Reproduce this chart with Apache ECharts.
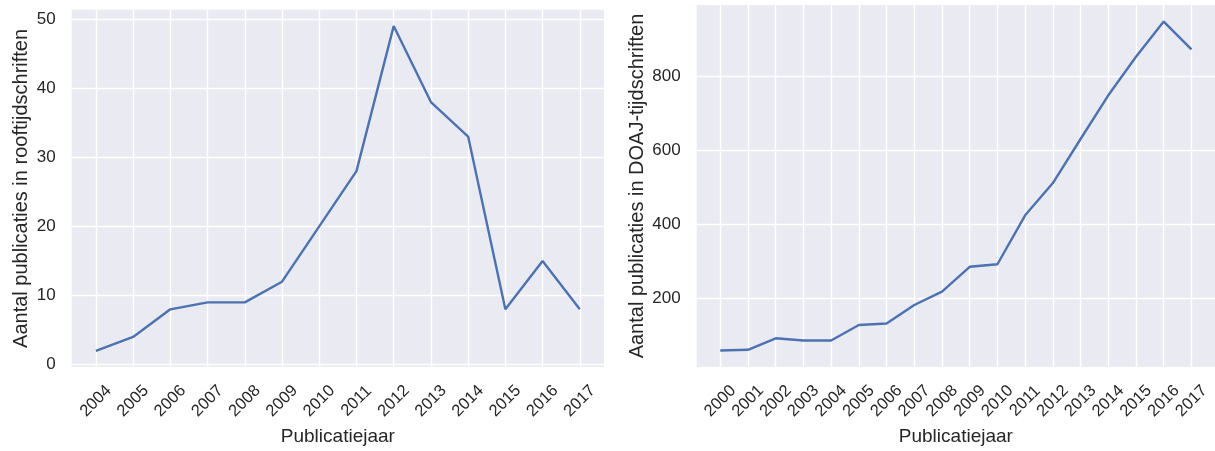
<!DOCTYPE html>
<html>
<head>
<meta charset="utf-8">
<script src="https://cdn.jsdelivr.net/npm/echarts@6/dist/echarts.min.js"></script>
<style>
  html, body { margin: 0; padding: 0; background: #ffffff; }
  #chart { width: 1215px; height: 451px; }
</style>
</head>
<body>
<div id="chart"></div>
<script>
// ---- data ----
const leftYears = [2004, 2005, 2006, 2007, 2008, 2009, 2010, 2011, 2012, 2013, 2014, 2015, 2016, 2017];
const leftValues = [2, 4, 8, 9, 9, 12, 20, 28, 49, 38, 33, 8, 15, 8];
const rightYears = [2000, 2001, 2002, 2003, 2004, 2005, 2006, 2007, 2008, 2009, 2010, 2011, 2012, 2013, 2014, 2015, 2016, 2017];
const rightValues = [59, 61, 92, 86, 86, 128, 132, 182, 218, 285, 292, 424, 511, 630, 748, 852, 947, 872];
const leftYTicks = [0, 10, 20, 30, 40, 50];
const rightYTicks = [200, 400, 600, 800];
const xLabelName = 'Publicatiejaar';
const leftYName = 'Aantal publicaties in rooftijdschriften';
const rightYName = 'Aantal publicaties in DOAJ-tijdschriften';

// matplotlib-style 5% data margins
function padded(arr) {
  const lo = Math.min.apply(null, arr), hi = Math.max.apply(null, arr);
  const m = (hi - lo) * 0.05;
  return [lo - m, hi + m];
}

const FONT = 'Arial, "Liberation Sans", sans-serif';
const TXT = '#262626';
const LINE = '#4C72B0';
const BG = '#EAEAF2';

function xAxisFor(years, gridIndex) {
  const r = padded(years);
  return {
    type: 'value', gridIndex: gridIndex, min: r[0], max: r[1],
    name: xLabelName, nameLocation: 'middle', nameGap: 56,
    nameTextStyle: { fontSize: 19, color: TXT, fontFamily: FONT },
    axisLine: { show: false },
    axisTick: { show: false, customValues: years },
    splitLine: { show: true, lineStyle: { color: '#ffffff', width: 1.4 } },
    axisLabel: {
      customValues: years, formatter: function (v) { return String(v); },
      rotate: 45, align: 'center', verticalAlign: 'middle', margin: 34,
      fontSize: 16.5, color: TXT, fontFamily: FONT
    }
  };
}
function yAxisFor(values, ticks, name, gap, gridIndex) {
  const r = padded(values);
  return {
    type: 'value', gridIndex: gridIndex, min: r[0], max: r[1],
    name: name, nameLocation: 'middle', nameGap: gap,
    nameTextStyle: { fontSize: 20, color: TXT, fontFamily: FONT },
    axisLine: { show: false },
    axisTick: { show: false, customValues: ticks },
    splitLine: { show: true, lineStyle: { color: '#ffffff', width: 1.4 } },
    axisLabel: {
      customValues: ticks, formatter: function (v) { return String(v); },
      margin: 16, fontSize: 17, color: TXT, fontFamily: FONT
    }
  };
}

const chart = echarts.init(document.getElementById('chart'), null, { renderer: 'canvas' });
chart.setOption({
  animation: false,
  backgroundColor: '#ffffff',
  grid: [
    { left: 71.7, top: 9.85, width: 532.3, height: 361.9, show: true, backgroundColor: BG, borderWidth: 0 },
    { left: 696.7, top: 5.1, width: 522.1, height: 363.6, show: true, backgroundColor: BG, borderWidth: 0 }
  ],
  xAxis: [xAxisFor(leftYears, 0), xAxisFor(rightYears, 1)],
  yAxis: [
    yAxisFor(leftValues, leftYTicks, leftYName, 40, 0),
    yAxisFor(rightValues, rightYTicks, rightYName, 49, 1)
  ],
  series: [
    {
      type: 'line', xAxisIndex: 0, yAxisIndex: 0, showSymbol: false,
      lineStyle: { color: LINE, width: 2.4 },
      data: leftYears.map(function (y, i) { return [y, leftValues[i]]; })
    },
    {
      type: 'line', xAxisIndex: 1, yAxisIndex: 1, showSymbol: false,
      lineStyle: { color: LINE, width: 2.4 },
      data: rightYears.map(function (y, i) { return [y, rightValues[i]]; })
    }
  ]
});
</script>
</body>
</html>
